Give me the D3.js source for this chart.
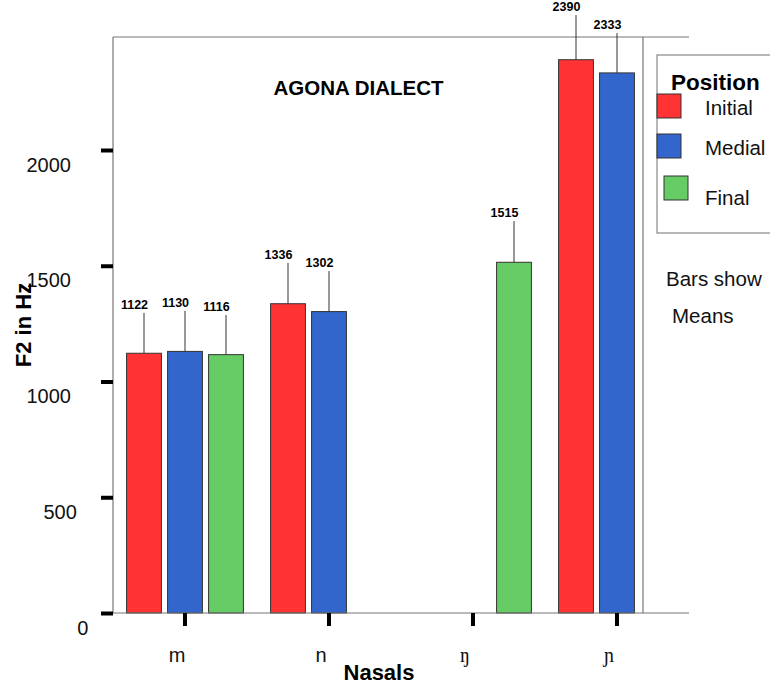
<!DOCTYPE html>
<html lang="en">
<head>
<meta charset="UTF-8">
<title>AGONA DIALECT - F2 of nasals</title>
<style>
  body { margin: 0; background: #fff; }
  text { font-family: "Liberation Sans", Arial, Helvetica, sans-serif; }
</style>
</head>
<body>
<div id="chart"></div>
<script src="https://d3js.org/d3.v7.min.js"></script>
<script>
// data
var nasals = ["m", "n", "ŋ", "ɲ"];
var positions = ["Initial", "Medial", "Final"];
var colors = ["#ff3333", "#3366cc", "#66cc66"];

// means per position (null = no bar)
var initialMeans = [1122, 1336, null, 2390];
var medialMeans  = [1130, 1302, null, 2333];
var finalMeans   = [1116, null, 1515, null];

// upper end of the error line
var initialUpper = [1296, 1512, null, 2583];
var medialUpper  = [1305, 1477, null, 2505];
var finalUpper   = [1287, null, 1693, null];

var yTicks = [0, 500, 1000, 1500, 2000];

var means = [initialMeans, medialMeans, finalMeans];
var uppers = [initialUpper, medialUpper, finalUpper];

var W = 770, H = 685;
var plot = {left: 113, right: 689, top: 37, bottom: 613, divider: 643};

var svg = d3.select("#chart").append("svg")
    .attr("width", W)
    .attr("height", H);

var y = d3.scaleLinear()
    .domain([0, 2000])
    .range([plot.bottom, 150]);

var x = d3.scaleBand()
    .domain(nasals)
    .range([plot.left, plot.right])
    .padding(0);

var sub = d3.scaleBand()
    .domain(positions)
    .range([-61.5, 61.5])
    .paddingInner(0.15)
    .paddingOuter(0.075);

// build flat list of bars
var bars = [];
positions.forEach(function(p, pi) {
    nasals.forEach(function(n, ni) {
        if (means[pi][ni] != null) {
            bars.push({nasal: n, pos: p, color: colors[pi], mean: means[pi][ni], upper: uppers[pi][ni]});
        }
    });
});
function cx(d) { return x(d.nasal) + x.bandwidth() / 2 + sub(d.pos) + sub.bandwidth() / 2; }

// frame lines
var frame = svg.append("g").attr("stroke", "#777").attr("stroke-width", 1.2).attr("fill", "none");
frame.append("line").attr("x1", plot.left).attr("x2", plot.left).attr("y1", plot.top).attr("y2", plot.bottom);
frame.append("line").attr("x1", plot.left).attr("x2", plot.right).attr("y1", plot.top).attr("y2", plot.top);
frame.append("line").attr("x1", plot.divider).attr("x2", plot.divider).attr("y1", plot.top).attr("y2", plot.bottom);

// bars
svg.append("g").selectAll("rect")
    .data(bars)
    .enter()
    .append("rect")
    .attr("x", function(d) { return cx(d) - sub.bandwidth() / 2; })
    .attr("y", function(d) { return y(d.mean); })
    .attr("width", sub.bandwidth())
    .attr("height", function(d) { return y(0) - y(d.mean); })
    .attr("fill", function(d) { return d.color; })
    .attr("stroke", "#333")
    .attr("stroke-width", 1);

// error lines
svg.append("g").selectAll("line")
    .data(bars)
    .enter()
    .append("line")
    .attr("x1", cx).attr("x2", cx)
    .attr("y1", function(d) { return y(d.mean); })
    .attr("y2", function(d) { return y(d.upper); })
    .attr("stroke", "#333")
    .attr("stroke-width", 1);

// value labels
svg.append("g").selectAll("text")
    .data(bars)
    .enter()
    .append("text")
    .attr("x", function(d) { return cx(d) - 9.5; })
    .attr("y", function(d) { return y(d.upper) - 4; })
    .attr("text-anchor", "middle")
    .style("font-size", "12.5px")
    .style("font-weight", "bold")
    .text(function(d) { return d.mean; });

// baseline
svg.append("line")
    .attr("x1", plot.left).attr("x2", plot.right)
    .attr("y1", plot.bottom).attr("y2", plot.bottom)
    .attr("stroke", "#777").attr("stroke-width", 1.2);

// Y axis
var yAxis = svg.append("g")
    .attr("transform", "translate(" + plot.left + ",0)")
    .call(d3.axisLeft(y).tickValues(yTicks).tickFormat(d3.format("d")).tickSize(12).tickPadding(30));
yAxis.select(".domain").remove();
yAxis.selectAll(".tick line").attr("stroke", "#000").attr("stroke-width", 4);
yAxis.selectAll(".tick text")
    .style("font-size", "20px")
    .attr("fill", "#111")
    .attr("dy", "1.05em")
    .attr("dx", function(d) { return (4 - String(d).length) * 5.8; });

// X axis
var xAxis = svg.append("g")
    .attr("transform", "translate(0," + plot.bottom + ")")
    .call(d3.axisBottom(x).tickSize(13).tickPadding(22));
xAxis.select(".domain").remove();
xAxis.selectAll(".tick line").attr("stroke", "#000").attr("stroke-width", 4);
xAxis.selectAll(".tick text")
    .style("font-size", "20px")
    .attr("fill", "#111")
    .attr("dx", -8)
    .style("font-family", function(d) { return (d === "ŋ" || d === "ɲ") ? "'Liberation Serif', 'DejaVu Serif', serif" : null; });

// title
svg.append("text")
    .attr("x", 358.5).attr("y", 95)
    .attr("text-anchor", "middle")
    .style("font-size", "20.5px")
    .style("font-weight", "bold")
    .text("AGONA DIALECT");

// axis titles
svg.append("text")
    .attr("transform", "translate(31,325) rotate(-90)")
    .attr("text-anchor", "middle")
    .style("font-size", "22px")
    .style("font-weight", "bold")
    .text("F2 in Hz");

svg.append("text")
    .attr("x", 379).attr("y", 680)
    .attr("text-anchor", "middle")
    .style("font-size", "22px")
    .style("font-weight", "bold")
    .text("Nasals");

// legend
var legend = svg.append("g");
legend.append("rect")
    .attr("x", 657).attr("y", 55)
    .attr("width", 130).attr("height", 178)
    .attr("fill", "none").attr("stroke", "#888").attr("stroke-width", 1.2);
legend.append("text")
    .attr("x", 671).attr("y", 90)
    .style("font-size", "22.5px")
    .style("font-weight", "bold")
    .text("Position");

var rowY = [94, 134, 176];
var rowX = [657, 657, 664];
var textY = [115, 155, 205];
legend.selectAll(".sw")
    .data(positions)
    .enter()
    .append("rect")
    .attr("class", "sw")
    .attr("x", function(d, i) { return rowX[i]; })
    .attr("y", function(d, i) { return rowY[i]; })
    .attr("width", 24).attr("height", 24)
    .attr("fill", function(d, i) { return colors[i]; })
    .attr("stroke", "#333").attr("stroke-width", 1);
legend.selectAll(".lt")
    .data(positions)
    .enter()
    .append("text")
    .attr("class", "lt")
    .attr("x", 705)
    .attr("y", function(d, i) { return textY[i]; })
    .style("font-size", "20.5px")
    .attr("fill", "#111")
    .text(function(d) { return d; });

svg.append("text")
    .attr("x", 666).attr("y", 286)
    .style("font-size", "20.5px")
    .attr("fill", "#111")
    .text("Bars show");
svg.append("text")
    .attr("x", 672).attr("y", 323)
    .style("font-size", "20.5px")
    .attr("fill", "#111")
    .text("Means");
</script>
</body>
</html>
